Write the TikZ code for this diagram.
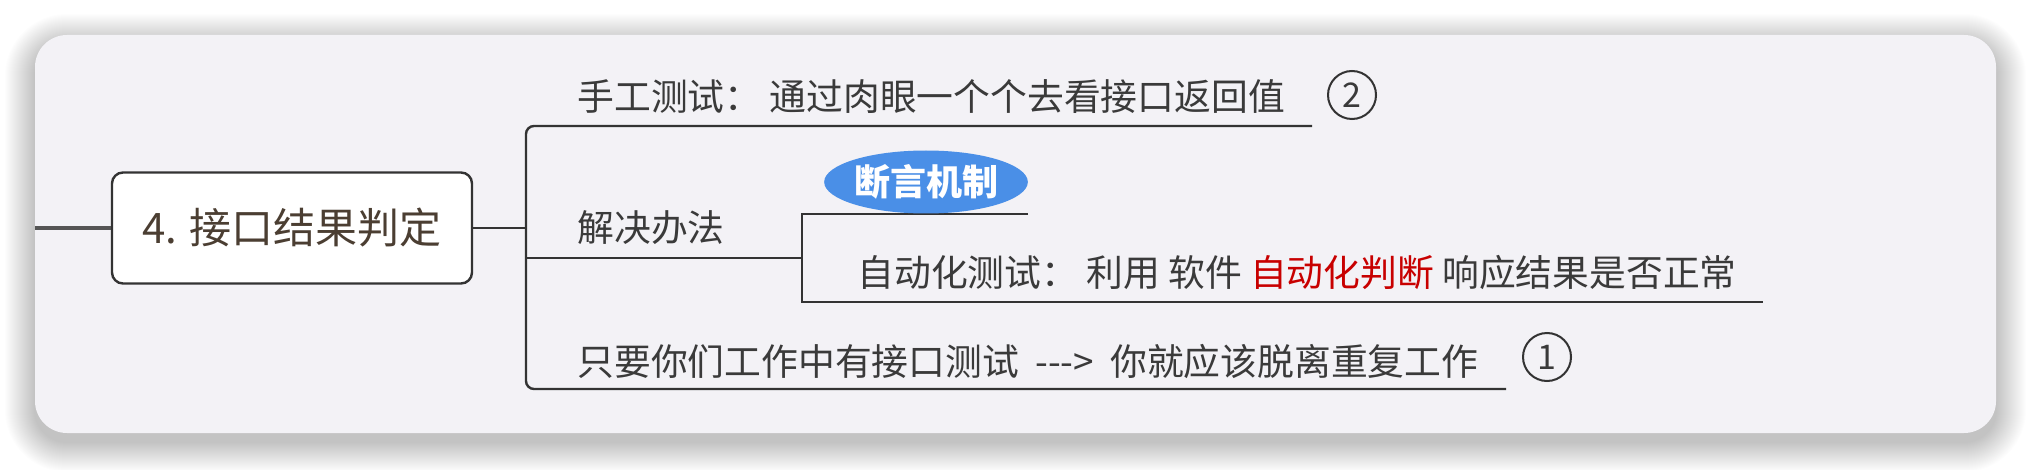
\documentclass[tikz,border=0pt]{standalone}
\usepackage{fontspec}
\newfontfamily\cjk{Noto Sans CJK SC}
\usetikzlibrary{shapes.geometric}
\definecolor{cardbg}{RGB}{243,242,246}
\definecolor{linec}{RGB}{51,51,51}
\definecolor{leftc}{RGB}{85,85,85}
\definecolor{txt}{RGB}{58,58,58}
\definecolor{roottxt}{RGB}{75,62,50}
\definecolor{blueb}{RGB}{74,143,231}
\definecolor{redt}{RGB}{200,0,0}
\tikzset{
  conn/.style={draw=linec, line width=1.2pt},
  leftline/.style={draw=leftc, line width=2pt},
  lbl/.style={font=\cjk\fontsize{18.4}{22}\selectfont, text=txt, inner sep=0pt, anchor=west},
  rootbox/.style={draw=linec, line width=1.2pt, fill=white, rounded corners=5.5pt,
    minimum width=180pt, minimum height=55.5pt, inner sep=0pt,
    font=\cjk\fontsize{21}{25}\selectfont, text=roottxt},
  badge/.style={ellipse, fill=blueb, minimum width=98pt, minimum height=31.5pt, inner sep=0pt,
    font=\cjk\bfseries\fontsize{18}{20}\selectfont, text=white},
  numc/.style={circle, draw=linec, line width=1pt, minimum size=24pt, inner sep=0pt,
    font=\cjk\fontsize{17}{20}\selectfont, text=txt},
}
\begin{document}
\begin{tikzpicture}[x=0.5pt,y=-0.5pt]
\useasboundingbox (0,0) rectangle (2032,470);
\fill[white] (0,0) rectangle (2032,470);
% soft shadow
\foreach \i in {1,...,30}{
  \pgfmathsetmacro\rr{16+0.5*\i}
  \fill[black,opacity=0.008,rounded corners=\rr pt] (35-\i,35-\i+9) rectangle (1996+\i,433+\i+9);
}
% card
\fill[cardbg,rounded corners=16pt] (35,35) rectangle (1996,433);

% nodes
\node[rootbox] (root) at (292,228) {4. 接口结果判定};
\node[lbl] (n1) at (577,97) {手工测试： 通过肉眼一个个去看接口返回值};
\node[numc] (c2) at (1352,95) {2};
\node[lbl] (n2) at (577,228) {解决办法};
\node[lbl] (n3) at (857,272) {自动化测试： 利用 软件 {\color{redt}自动化判断} 响应结果是否正常};
\node[lbl] (n4) at (577,361) {只要你们工作中有接口测试\hspace{4pt} ---> \hspace{4pt}你就应该脱离重复工作};
\node[numc] (c1) at (1547,357) {1};

% connector points
\coordinate (lstart) at (35,228);
\coordinate (j) at (526,228);
\coordinate (t1) at (1312,126);
\coordinate (b1) at (1506,389);
\coordinate (m0) at (526,258);
\coordinate (sj) at (802,258);
\coordinate (s1) at (1028,214);
\coordinate (s2) at (1763,302);

\draw[leftline] (lstart) -- (root.west);
\draw[conn] (root.east) -- (j);
\draw[conn, rounded corners=4pt] (t1) -| (j) |- (b1);
\draw[conn] (m0) -- (sj);
\draw[conn] (s1) -| (sj) |- (s2);

\node[badge] (bd) at (926,182) {断言机制};
\end{tikzpicture}
\end{document}
